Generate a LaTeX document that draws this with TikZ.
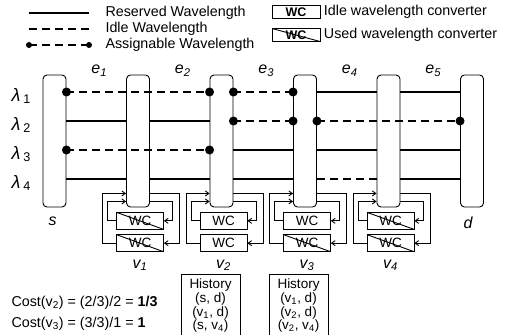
\documentclass[tikz,border=0pt]{standalone}
\usepackage{fontspec}
\setmainfont{Liberation Sans}
\usetikzlibrary{arrows.meta, positioning, calc}

\begin{document}
\begin{tikzpicture}[x=1pt, y=-1pt,
    font=\fontsize{14.3}{16}\selectfont,
    pillar/.style={rectangle, draw, rounded corners=4pt, minimum width=23pt, minimum height=132pt, fill=white, line width=0.9pt},
    wc/.style={rectangle, draw, minimum width=47pt, minimum height=17pt, inner sep=0pt, line width=0.8pt, font=\fontsize{13.5}{14}\selectfont},
    legwc/.style={wc, minimum width=48pt, minimum height=13pt, font=\fontsize{12.5}{12}\selectfont\bfseries},
    used/.style={path picture={\draw[line width=0.9pt] (path picture bounding box.north west) -- (path picture bounding box.south east);}},
    idle/.style={},
    reserved/.style={line width=1.6pt},
    idlewl/.style={line width=1.6pt, dash pattern=on 8pt off 5pt},
    conv/.style={->, >={Straight Barb[length=3.5pt, width=5pt]}, line width=0.9pt},
    lbl/.style={font=\fontsize{16}{16}\selectfont\itshape},
    histbox/.style={rectangle, draw, line width=0.8pt, minimum width=59pt, minimum height=75pt}
]
\useasboundingbox (0,0) rectangle (505,334);

\node[anchor=west] (kres) at (102,13) {Reserved Wavelength};
\node[anchor=west] (kidle) at (102,29) {Idle Wavelength};
\node[anchor=west] (kass) at (102,45) {Assignable Wavelength};
\draw[reserved] ([xshift=-13pt]kres.west) -- ++(-60pt,0);
\draw[idlewl] ([xshift=-13pt]kidle.west) -- ++(-60pt,0);
\draw[idlewl] ([xshift=-13pt]kass.west) -- ++(-60pt,0);
\fill ([xshift=-13pt]kass.west) circle (3pt) ([xshift=-73pt]kass.west) circle (3pt);

\node[legwc] (kwc1) at (296,12) {WC};
\node[legwc, used] (kwc2) at (296,35) {WC};
\node[right=0pt of kwc1] (kwctxt1) {Idle wavelength converter};
\node[right=0pt of kwc2] (kwctxt2) {Used wavelength converter};

\node[pillar] (s) at (54.5,141) {};
\node[pillar, right=59.6pt of s] (v1) {};
\node[pillar, right=59.6pt of v1] (v2) {};
\node[pillar, right=59.6pt of v2] (v3) {};
\node[pillar, right=59.6pt of v3] (v4) {};
\node[pillar, right=59.6pt of v4] (d) {};

\coordinate (r1) at (0,92);
\coordinate (r2) at (0,121);
\coordinate (r3) at (0,150);
\coordinate (r4) at (0,179);

\foreach \i in {1,...,4}
  \node[lbl, anchor=west, font=\fontsize{18}{18}\selectfont\itshape] (lam\i) at ($(r\i)+(8,4)$) {λ\,\textsubscript{\upshape\i}};

\foreach \a/\b/\i in {s/v1/1, v1/v2/2, v2/v3/3, v3/v4/4, v4/d/5}
  \node[lbl] (e\i) at ($(\a.north east)!0.5!(\b.north west)+(3,-4)$) {e\textsubscript{\i}};

\foreach \a/\b/\r in {v3/v4/r1, v4/d/r1, s/v1/r2, v1/v2/r2, v2/v3/r3, v3/v4/r3, v4/d/r3, s/v1/r4, v1/v2/r4, v2/v3/r4, v4/d/r4}
  \draw[reserved] (\a.east |- \r) -- (\b.west |- \r);
\draw[idlewl] (v3.east |- r4) -- (v4.west |- r4);
\foreach \a/\b/\r in {s/v2/r1, v2/v3/r1, v2/v3/r2, v3/d/r2, s/v2/r3}{
  \draw[idlewl] (\a.east |- \r) -- (\b.west |- \r);
  \fill (\a.east |- \r) circle (4.5pt) (\b.west |- \r) circle (4.5pt);
}

\foreach \n/\ua/\ub/\k in {v1/used/used/1, v2/idle/idle/2, v3/idle/used/3, v4/used/used/4}{
  \node[wc, \ua, below=4.5pt of \n, xshift=2pt] (\n-a) {WC};
  \node[wc, \ub, below=4.5pt of \n-a] (\n-b) {WC};
  \draw[conv] ([yshift=14pt]\n.south east) -- ++(29.5pt,0) |- (\n-b.east);
  \draw[conv] ([yshift=6pt]\n.south east) -- ++(22.5pt,0) |- (\n-a.east);
  \draw[conv] (\n-b.west) -- ++(-13.5pt,0) |- ([yshift=14pt]\n.south west);
  \draw[conv] (\n-a.west) -- ++(-8.5pt,0) |- ([yshift=6pt]\n.south west);
  \node[lbl, below=4pt of \n-b] (\n-lab) {v\textsubscript{\k}};
}

\node[lbl, below=6pt of s, xshift=-2pt] (slab) {s};
\node[lbl, below=6pt of d, xshift=-4pt] (dlab) {d};

\node[histbox, anchor=north] (h2) at (210.5,274) {};
\node[histbox, anchor=north] (h3) at (298.5,274) {};
\node[below=3pt of h2.north, align=center, inner sep=2pt, font=\fontsize{13.5}{12}\selectfont] (h2txt) {History\\(s, d)\\(v\textsubscript{1}, d)\\(s, v\textsubscript{4})};
\node[below=3pt of h3.north, align=center, inner sep=2pt, font=\fontsize{13.5}{12}\selectfont] (h3txt) {History\\(v\textsubscript{1}, d)\\(v\textsubscript{2}, d)\\(v\textsubscript{2}, v\textsubscript{4})};

\node[anchor=west] (cost2) at (8,303) {Cost(v\textsubscript{2}) = (2/3)/2 = \textbf{1/3}};
\node[anchor=west] (cost3) at (8,324) {Cost(v\textsubscript{3}) = (3/3)/1 = \textbf{1}};

\end{tikzpicture}
\end{document}
